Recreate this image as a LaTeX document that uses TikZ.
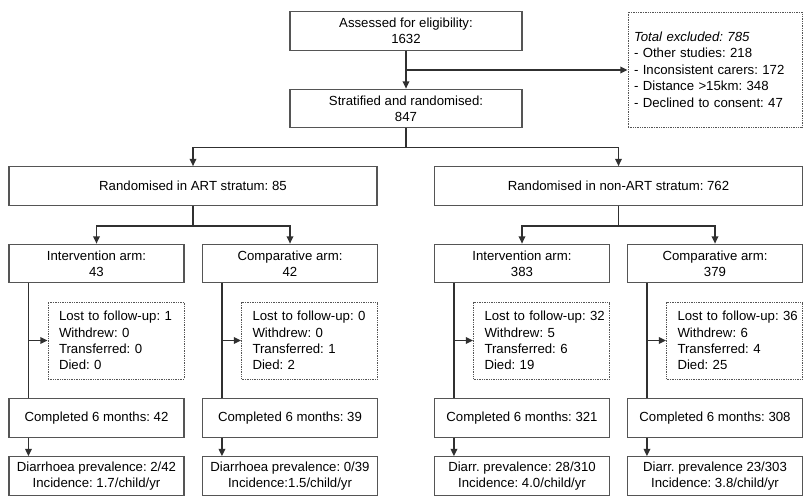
\documentclass[tikz,border=0pt]{standalone}
\usepackage{fontspec}
\setmainfont{Liberation Sans}
\usepackage{tikz}
\usetikzlibrary{arrows.meta}
\frenchspacing

\definecolor{boxgray}{HTML}{555555}
\definecolor{linegray}{HTML}{303030}

\tikzset{
  box/.style={draw=boxgray, line width=0.8pt, align=center, inner xsep=2pt, inner ysep=1pt,
    minimum width=131.25pt, minimum height=29pt},
  lostbox/.style={draw=boxgray, line width=0.6pt, dash pattern=on 0.6pt off 0.7pt, align=left,
    text width=85.5pt, inner xsep=8.25pt, minimum height=57.75pt},
  flow/.style={draw=linegray, line width=1.1pt},
  flowarrow/.style={flow, -{Triangle[length=5.5pt, width=5pt]}}
}

\begin{document}
\begin{tikzpicture}[x=0.75pt, y=-0.75pt, font=\fontsize{9.9}{12.3}\selectfont]
    \useasboundingbox (0,0) rectangle (804,500);

    % screening
    \node[box, minimum width=174pt] (assess) at (406,31) {Assessed for eligibility:\\1632};
    \node[box, minimum width=174pt] (strat) at (406,108.5) {Stratified and randomised:\\847};
    \node[lostbox, text width=121.5pt, inner xsep=4.5pt, minimum height=86.25pt] (excl) at (715,69.5)
      {\textit{Total excluded: 785}\\- Other studies: 218\\- Inconsistent carers: 172\\- Distance >15km: 348\\- Declined to consent: 47};

    % strata
    \node[box, minimum width=276pt] (art) at (193,186) {Randomised in ART stratum: 85};
    \node[box, minimum width=276pt] (nonart) at (618.5,186) {Randomised in non-ART stratum: 762};

    % arms
    \node[box] (ai) at (96.5,263.5) {Intervention arm:\\43};
    \node[box] (ac) at (290,263.5) {Comparative arm:\\42};
    \node[box] (ni) at (522,263.5) {Intervention arm:\\383};
    \node[box] (nc) at (715,263.5) {Comparative arm:\\379};

    % losses
    \node[lostbox] (ailost) at (116,340.5) {\mbox{Lost to follow-up: 1}\\Withdrew: 0\\Transferred: 0\\Died: 0};
    \node[lostbox] (aclost) at (309.5,340.5) {\mbox{Lost to follow-up: 0}\\Withdrew: 0\\Transferred: 1\\Died: 2};
    \node[lostbox] (nilost) at (541.5,340.5) {\mbox{Lost to follow-up: 32}\\Withdrew: 5\\Transferred: 6\\Died: 19};
    \node[lostbox] (nclost) at (734.5,340.5) {\mbox{Lost to follow-up: 36}\\Withdrew: 6\\Transferred: 4\\Died: 25};

    % completed
    \node[box] (aidone) at (96.5,418) {Completed 6 months: 42};
    \node[box] (acdone) at (290,418) {Completed 6 months: 39};
    \node[box] (nidone) at (522,418) {Completed 6 months: 321};
    \node[box] (ncdone) at (715,418) {Completed 6 months: 308};

    % outcomes
    \node[box] (aiout) at (96.5,476) {Diarrhoea prevalence: 2/42\\Incidence: 1.7/child/yr};
    \node[box] (acout) at (290,476) {Diarrhoea prevalence: 0/39\\Incidence:1.5/child/yr};
    \node[box] (niout) at (522,476) {Diarr. prevalence: 28/310\\Incidence: 4.0/child/yr};
    \node[box] (ncout) at (715,476) {Diarr. prevalence 23/303\\Incidence: 3.8/child/yr};

    % connectors
    \draw[flowarrow] (assess) -- (strat);
    \coordinate (exclfork) at (406,70);
    \draw[flowarrow] (exclfork) -- (exclfork -| excl.west);
    \draw[flow] (strat.south) -- ++(0,19) coordinate (stratfork);
    \draw[flowarrow] (stratfork) -| (art);
    \draw[flowarrow] (stratfork) -| (nonart);

    \foreach \s/\i/\c in {art/ai/ac, nonart/ni/nc} {
      \draw[flow] (\s.south) -- ++(0,20) coordinate (fk\s);
      \draw[flowarrow] (fk\s) -| (\i);
      \draw[flowarrow] (fk\s) -| (\c);
    }

    \foreach \a in {ai,ac,ni,nc} {
      \coordinate (\a v) at ([xshift=15pt]\a.south west);
      \draw[flow] (\a v) -- ([xshift=15pt]\a done.north west);
      \draw[flowarrow] (\a lost.west -| \a v) -- (\a lost);
      \draw[flowarrow] ([xshift=15pt]\a done.south west) -- ([xshift=15pt]\a out.north west);
    }
\end{tikzpicture}
\end{document}
